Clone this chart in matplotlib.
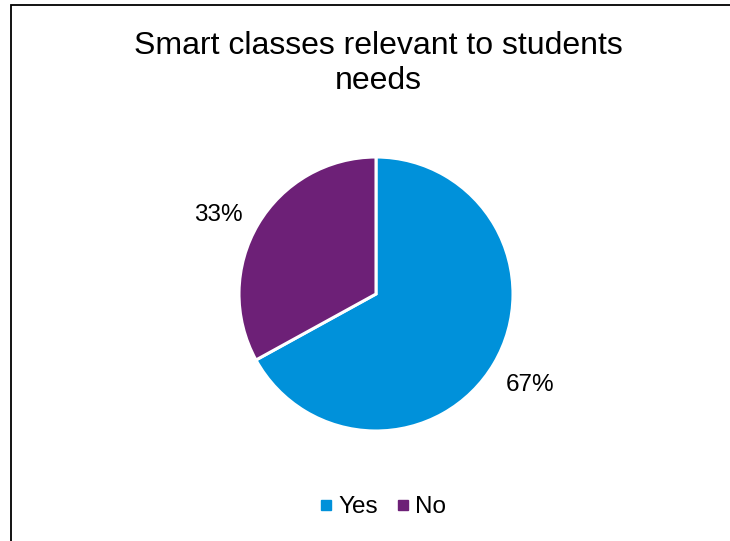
import matplotlib.pyplot as plt
from matplotlib.lines import Line2D
from matplotlib.patches import Rectangle

plt.rcParams['font.family'] = ['Liberation Sans', 'DejaVu Sans']

# Survey responses
labels = ['Yes', 'No']
shares = [67, 33]
colors = ['#0091DA', '#6D2077']

W, H = 730, 541
fig = plt.figure(figsize=(W / 100, H / 100), dpi=100)

# outer frame, open past the right and bottom edges
fig.add_artist(Rectangle((11 / W, -0.1), 1.0, 1 - 4.5 / H + 0.1,
                         transform=fig.transFigure, fill=False,
                         edgecolor='black', linewidth=1.3))

fig.text(378 / W, 1 - 46 / H, 'Smart classes relevant to students',
         ha='center', va='center', fontsize=23)
fig.text(378 / W, 1 - 81 / H, 'needs', ha='center', va='center', fontsize=23)

# pie axes: square box around the circle
cx, cy, r = 376, 294, 137
ax = fig.add_axes([(cx - r) / W, (H - cy - r) / H, 2 * r / W, 2 * r / H])
wedges, texts, autotexts = ax.pie(
    shares, colors=colors, startangle=90, counterclock=False,
    autopct='%d%%', pctdistance=1.31, radius=1,
    wedgeprops=dict(edgecolor='white', linewidth=2.2))
for t in autotexts:
    t.set_fontsize(17.5)
    t.set_color('black')
# nudge the small-slice label a touch lower
x, y = autotexts[1].get_position()
autotexts[1].set_position((x - 0.02, y - 0.09))
ax.set_xlim(-1, 1)
ax.set_ylim(-1, 1)
ax.set_aspect('equal')
ax.axis('off')

handles = [Line2D([], [], marker='s', linestyle='', markersize=6.5,
                  markerfacecolor=c, markeredgecolor=c) for c in colors]
fig.legend(handles, labels, loc='center', bbox_to_anchor=(382 / W, 1 - 507 / H),
           ncol=2, frameon=False, fontsize=17.5, handletextpad=0.15,
           columnspacing=0.7, handlelength=0.7)

fig.savefig('out.png', dpi=100)
